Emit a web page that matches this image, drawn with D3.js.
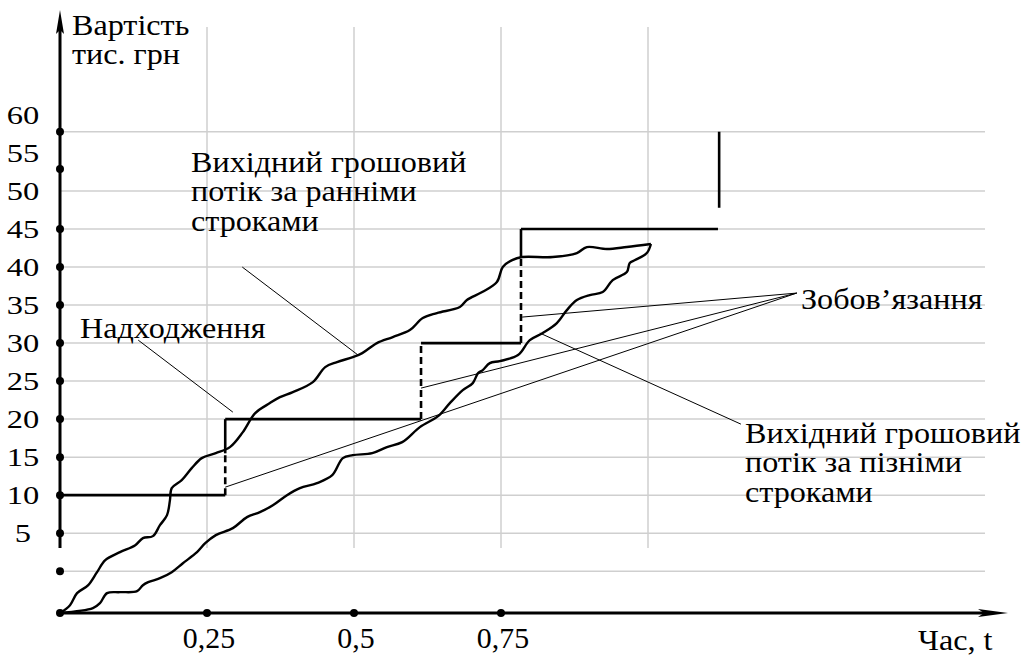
<!DOCTYPE html>
<html>
<head>
<meta charset="utf-8">
<script src="https://cdn.jsdelivr.net/npm/d3@7"></script>
<style>
  html, body { margin: 0; padding: 0; background: #fff; }
</style>
</head>
<body>
<script>
const WIDTH = 1024;
const HEIGHT = 657;
const FONT = 29.5;
const FONT_STRETCH = 1.09;
const Y_TICK_FONT = 25;
const Y_TICK_STRETCH = 1.3;
const X_TICK_FONT = 29;
const X_TICK_STRETCH = 1.03;
const GRID = "#cfcfcf";
const INK = "#000";

// y labels and dots (tick 55 and 60 dots are drawn lower)
const Y_LABELS = [5, 10, 15, 20, 25, 30, 35, 40, 45, 50, 55, 60];
const Y_DOTS = [0, 5, 10, 15, 20, 25, 30, 35, 40, 45, 52.9, 57.8];
const Y_GRID = [0, 5, 10, 15, 20, 25, 30, 35, 40, 45, 50, 57.8];
const X_TICKS = [0.25, 0.5, 0.75];
const X_GRID = [0.25, 0.5, 0.75, 1];

// inflow steps: time where each level starts, level value
const STEP_T = [0, 0.281, 0.614, 0.784, 1.119];
const STEP_V = [10, 20, 30, 45];
// vertical risers: dashed from lower level up to this value, solid above
const RISER_DASH_TOP = [15.5, 30, 41.3];
// separate mark at the right
const LAST_BAR = {t: 1.121, v0: 47.8, v1: 57.8};

// outflow, early terms
const EARLY_T = [0, 0.017, 0.029, 0.048, 0.063, 0.077, 0.102, 0.128, 0.141, 0.158, 0.170, 0.182, 0.187, 0.190, 0.207, 0.224, 0.241, 0.265, 0.289, 0.311, 0.332, 0.357, 0.374, 0.396, 0.430, 0.451, 0.471, 0.498, 0.514, 0.539, 0.566, 0.595, 0.617, 0.641, 0.680, 0.692, 0.718, 0.743, 0.753, 0.769, 0.786, 0.838, 0.879, 0.896, 0.930, 0.964, 1.005];
const EARLY_V = [-5.5, -4.47, -2.89, -1.84, -0.13, 1.45, 2.50, 3.42, 4.34, 4.61, 6.05, 7.37, 9.34, 10.92, 11.97, 13.55, 14.87, 15.53, 16.32, 18.29, 20.79, 22.11, 22.89, 23.55, 24.87, 26.84, 27.50, 28.16, 28.68, 30.00, 30.79, 31.71, 33.29, 33.95, 34.74, 35.66, 36.71, 38.03, 40.00, 40.92, 41.32, 41.32, 41.84, 42.63, 42.37, 42.63, 43.03];

// outflow, late terms
const LATE_T = [0, 0.056, 0.068, 0.080, 0.102, 0.131, 0.141, 0.150, 0.170, 0.190, 0.209, 0.233, 0.247, 0.265, 0.294, 0.318, 0.340, 0.362, 0.386, 0.408, 0.437, 0.463, 0.481, 0.498, 0.531, 0.556, 0.582, 0.612, 0.643, 0.663, 0.685, 0.702, 0.711, 0.719, 0.731, 0.748, 0.779, 0.799, 0.821, 0.845, 0.862, 0.879, 0.901, 0.923, 0.940, 0.964, 0.969, 0.978, 0.998, 1.005];
const LATE_V = [-5.5, -4.87, -4.21, -2.89, -2.76, -2.63, -1.84, -1.45, -0.92, -0.13, 1.05, 2.50, 3.68, 4.74, 5.66, 7.11, 7.76, 8.68, 10.00, 10.92, 11.58, 12.63, 14.87, 15.26, 15.53, 16.32, 16.97, 18.95, 20.39, 22.11, 23.82, 24.74, 26.05, 26.45, 27.37, 27.63, 28.42, 30.39, 31.32, 32.63, 34.34, 35.66, 36.32, 36.71, 38.29, 39.34, 40.53, 40.92, 41.84, 43.03];

// leader lines [t0, v0, t1, v1]
const LEADERS = [
  [0.133, 30.39, 0.294, 20.92],
  [0.310, 40.00, 0.507, 28.42],
  [0.816, 31.32, 1.158, 19.34],
  [1.253, 36.58, 0.281, 11.05],
  [1.253, 36.58, 0.614, 24.08],
  [1.253, 36.58, 0.786, 33.42]
];

const svg = d3.select("body").append("svg")
  .attr("width", WIDTH).attr("height", HEIGHT)
  .attr("font-family", "Liberation Serif, Times New Roman, serif");

const x = d3.scaleLinear().domain([0, 1]).range([60, 648]);
const y = d3.scaleLinear().domain([-5.5, 60]).range([613, 115]);

const X0 = x(0), Y0 = y(-5.5);

// grid
svg.append("g").selectAll("line").data(Y_GRID).enter().append("line")
  .attr("x1", X0).attr("x2", 985)
  .attr("y1", d => y(d)).attr("y2", d => y(d))
  .attr("stroke", GRID).attr("stroke-width", 1.5);

svg.append("g").selectAll("line").data(X_GRID).enter().append("line")
  .attr("x1", d => x(d)).attr("x2", d => x(d))
  .attr("y1", 27).attr("y2", 548)
  .attr("stroke", GRID).attr("stroke-width", 1.5);

// axes
svg.append("line").attr("x1", X0).attr("x2", X0).attr("y1", 28).attr("y2", 548)
  .attr("stroke", INK).attr("stroke-width", 3);
svg.append("path").attr("d", `M${X0},10 L${X0 + 4},34 L${X0},30 L${X0 - 4},34 Z`).attr("fill", INK);

svg.append("line").attr("x1", X0).attr("x2", 990).attr("y1", Y0).attr("y2", Y0)
  .attr("stroke", INK).attr("stroke-width", 3);
svg.append("path").attr("d", `M1008,${Y0} L978,${Y0 - 4} L984,${Y0} L978,${Y0 + 4} Z`).attr("fill", INK);

// dots
svg.append("g").selectAll("circle").data(Y_DOTS).enter().append("circle")
  .attr("cx", X0).attr("cy", d => y(d)).attr("r", 4).attr("fill", INK);
svg.append("g").selectAll("circle").data([0].concat(X_TICKS)).enter().append("circle")
  .attr("cx", d => x(d)).attr("cy", Y0).attr("r", 4).attr("fill", INK);

// tick labels
svg.append("g").selectAll("text").data(Y_LABELS).enter().append("text")
  .attr("transform", d => `translate(23,${y(d) + 9}) scale(${Y_TICK_STRETCH},1)`)
  .attr("text-anchor", "middle").attr("font-size", Y_TICK_FONT)
  .text(d => d);

svg.append("g").selectAll("text").data(X_TICKS).enter().append("text")
  .attr("transform", d => `translate(${x(d) + 2},648) scale(${X_TICK_STRETCH},1)`)
  .attr("text-anchor", "middle").attr("font-size", X_TICK_FONT)
  .text(d => String(d).replace("0.", "0,"));

// outflow curves
const line = d3.line().x(d => x(d[0])).y(d => y(d[1])).curve(d3.curveCatmullRom.alpha(0.5));
svg.append("path").attr("d", line(d3.zip(EARLY_T, EARLY_V)))
  .attr("fill", "none").attr("stroke", INK).attr("stroke-width", 2.4);
svg.append("path").attr("d", line(d3.zip(LATE_T, LATE_V)))
  .attr("fill", "none").attr("stroke", INK).attr("stroke-width", 2.4);

// inflow steps
const steps = svg.append("g").attr("stroke", INK).attr("stroke-width", 2.6).attr("fill", "none");
STEP_V.forEach((v, i) => {
  steps.append("line")
    .attr("x1", x(STEP_T[i])).attr("x2", x(STEP_T[i + 1]))
    .attr("y1", y(v)).attr("y2", y(v));
});
RISER_DASH_TOP.forEach((top, i) => {
  const t = STEP_T[i + 1];
  steps.append("line")
    .attr("x1", x(t)).attr("x2", x(t))
    .attr("y1", y(STEP_V[i])).attr("y2", y(top))
    .attr("stroke-dasharray", "7,4");
  if (top < STEP_V[i + 1]) {
    steps.append("line")
      .attr("x1", x(t)).attr("x2", x(t))
      .attr("y1", y(top)).attr("y2", y(STEP_V[i + 1]));
  }
});
steps.append("line")
  .attr("x1", x(LAST_BAR.t)).attr("x2", x(LAST_BAR.t))
  .attr("y1", y(LAST_BAR.v0)).attr("y2", y(LAST_BAR.v1));

// leaders
svg.append("g").selectAll("line").data(LEADERS).enter().append("line")
  .attr("x1", d => x(d[0])).attr("y1", d => y(d[1]))
  .attr("x2", d => x(d[2])).attr("y2", d => y(d[3]))
  .attr("stroke", INK).attr("stroke-width", 1);

// labels
const label = (px, py, lines) => {
  const t = svg.append("text")
    .attr("transform", `translate(${px},${py}) scale(${FONT_STRETCH},1)`)
    .attr("font-size", FONT);
  lines.forEach((s, i) => t.append("tspan").attr("x", 0).attr("dy", i ? 29.5 : 0).text(s));
};
label(72, 35, ["Вартість", "тис. грн"]);
label(191, 172, ["Вихідний грошовий", "потік за ранніми", "строками"]);
label(80, 338, ["Надходження"]);
label(801, 309, ["Зобов’язання"]);
label(745, 443, ["Вихідний грошовий", "потік за пізніми", "строками"]);
label(918, 650, ["Час, t"]);
</script>
</body>
</html>
